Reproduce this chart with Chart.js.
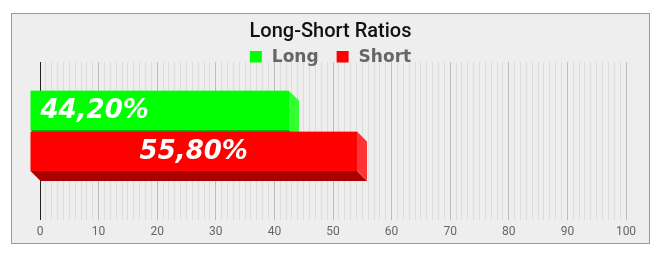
<!DOCTYPE html>
<html>
<head>
<meta charset="utf-8">
<script src="https://cdn.jsdelivr.net/npm/chart.js@4/dist/chart.umd.min.js"></script>
<style>
  html, body { margin: 0; padding: 0; background: #ffffff; }
  #box {
    position: absolute; left: 11px; top: 13px;
    width: 639px; height: 231px; box-sizing: border-box;
    border: 1px solid #9a9a9a; background: #eeeeee;
  }
  #c { display: block; }
</style>
</head>
<body>
<div id="box"><canvas id="c" width="637" height="229"></canvas></div>
<script>
// ---- data ----
const categories = [''];
const seriesNames = ['Long', 'Short'];
const longValues = [44.2];
const shortValues = [55.8];
const tickLabels = ['0', '10', '20', '30', '40', '50', '60', '70', '80', '90', '100'];
const chartTitle = 'Long-Short Ratios';

const DEPTH = 10;

function drawBar3D(ctx, bar, ds) {
  const p = bar.getProps(['x', 'y', 'base', 'height'], true);
  const left = Math.min(p.x, p.base), right = Math.max(p.x, p.base);
  const top = p.y - p.height / 2, bottom = p.y + p.height / 2;
  const d = DEPTH;
  ctx.fillStyle = ds.bottomColor;
  ctx.beginPath();
  ctx.moveTo(left - d, bottom - d);
  ctx.lineTo(right - d, bottom - d);
  ctx.lineTo(right, bottom);
  ctx.lineTo(left, bottom);
  ctx.closePath(); ctx.fill();
  ctx.fillStyle = ds.sideColor;
  ctx.beginPath();
  ctx.moveTo(right - d, top - d);
  ctx.lineTo(right, top);
  ctx.lineTo(right, bottom);
  ctx.lineTo(right - d, bottom - d);
  ctx.closePath(); ctx.fill();
  ctx.fillStyle = ds.backgroundColor;
  ctx.fillRect(left - d, top - d, right - left, bottom - top);
}

const threeDBars = {
  id: 'threeDBars',
  beforeDatasetDraw() { return false; },
  afterDatasetsDraw(chart) {
    const ctx = chart.ctx;
    ctx.save();
    chart.data.datasets.forEach((ds, i) => {
      chart.getDatasetMeta(i).data.forEach((bar) => drawBar3D(ctx, bar, ds));
    });
    ctx.font = 'italic bold 26px "DejaVu Sans"';
    ctx.fillStyle = '#ffffff';
    ctx.textBaseline = 'alphabetic';
    chart.data.datasets.forEach((ds, i) => {
      const meta = chart.getDatasetMeta(i);
      meta.data.forEach((bar, j) => {
        const p = bar.getProps(['x', 'y', 'base', 'height'], true);
        const left = Math.min(p.x, p.base) - DEPTH, right = Math.max(p.x, p.base) - DEPTH;
        const cy = p.y - DEPTH;
        const txt = ds.data[j].toFixed(2).replace('.', ',') + '%';
        if (ds.labelAlign === 'start') {
          ctx.textAlign = 'left';
          ctx.fillText(txt, left + 10, cy + 8);
        } else {
          ctx.textAlign = 'center';
          ctx.fillText(txt, (left + right) / 2, cy + 8);
        }
      });
    });
    ctx.restore();
  },
  afterDraw(chart) {
    const ctx = chart.ctx;
    const cx = chart.width / 2;
    ctx.save();
    // title
    ctx.font = '500 20px Roboto';
    ctx.fillStyle = '#111111';
    ctx.textAlign = 'center';
    ctx.textBaseline = 'alphabetic';
    ctx.fillText(chartTitle, cx, 23);
    // legend
    ctx.font = 'bold 17px "DejaVu Sans"';
    const box = 12, gap = 10, itemGap = 18;
    const items = chart.data.datasets.map(ds => ({ label: ds.label, color: ds.backgroundColor, w: ctx.measureText(ds.label).width }));
    let total = 0;
    items.forEach((it, i) => { total += box + gap + it.w + (i < items.length - 1 ? itemGap : 0); });
    let x = cx - total / 2;
    ctx.textAlign = 'left';
    items.forEach((it) => {
      ctx.fillStyle = it.color;
      ctx.fillRect(x, 37, box, 11.5);
      x += box + gap;
      ctx.fillStyle = '#666666';
      ctx.fillText(it.label, x, 48);
      x += it.w + itemGap;
    });
    ctx.restore();
  }
};

new Chart(document.getElementById('c'), {
  type: 'bar',
  data: {
    labels: categories,
    datasets: [
      { label: seriesNames[0], data: longValues, backgroundColor: '#00ff00', sideColor: '#33ff33', bottomColor: '#00b000', labelAlign: 'start' },
      { label: seriesNames[1], data: shortValues, backgroundColor: '#ff0000', sideColor: '#ff3333', bottomColor: '#aa0000', labelAlign: 'center' }
    ]
  },
  options: {
    indexAxis: 'y',
    responsive: false,
    animation: false,
    devicePixelRatio: 1,
    layout: { padding: { left: 28, right: 23, top: 48, bottom: -1 } },
    datasets: { bar: { categoryPercentage: 0.52, barPercentage: 0.96 } },
    plugins: { legend: { display: false }, title: { display: false }, tooltip: { enabled: false } },
    scales: {
      x: {
        min: 0, max: 100,
        border: { display: false },
        grid: {
          drawTicks: false,
          lineWidth: 1,
          color: (c) => c.tick.value === 0 ? '#222222' : (c.tick.value % 10 === 0 ? '#bdbdbd' : '#dcdcdc')
        },
        ticks: {
          stepSize: 1, autoSkip: false, maxRotation: 0, minRotation: 0, padding: 5,
          color: '#666666', font: { family: 'Roboto', size: 12 },
          callback: (v) => (v % 10 === 0 ? tickLabels[v / 10] : '')
        }
      },
      y: { display: false }
    }
  },
  plugins: [threeDBars]
});
</script>
</body>
</html>
